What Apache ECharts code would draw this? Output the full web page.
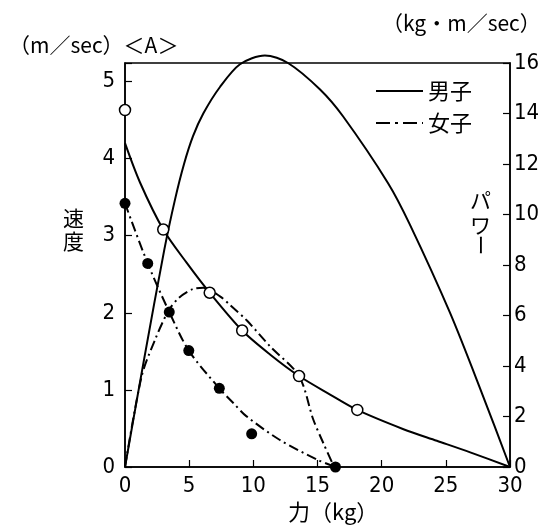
<!DOCTYPE html>
<html><head><meta charset="utf-8">
<script src="https://cdn.jsdelivr.net/npm/echarts@6/dist/echarts.min.js"></script>
<style>html,body{margin:0;padding:0;background:#fff}#c{width:543px;height:528px}</style>
</head><body><div id="c"></div>
<script>
// x: force (kg)
const xTicks = [0, 5, 10, 15, 20, 25, 30];
const leftTicks = [0, 1, 2, 3, 4, 5];
const rightTicks = [0, 2, 4, 6, 8, 10, 12, 14, 16];

// Male (男子) velocity curve [force, m/sec]
const maleVelocity = [[0,4.2],[1.17,3.69],[2.98,3.08],[4.8,2.65],[6.6,2.26],[9.13,1.77],[11.3,1.46],[13.56,1.18],[15.98,0.94],[18.1,0.74],[21.7,0.49],[24.3,0.34],[26.9,0.19],[30,0]];
// Male power curve [force, kg·m/sec]
const malePower = [[0,0],[1.5,4.3],[3.06,8.6],[3.9,10.6],[4.6,12.0],[5.3,13.1],[6.1,14.0],[7.4,15.05],[8.96,15.95],[10.9,16.3],[12.7,16.0],[15.2,14.95],[17.0,13.88],[20.5,11.24],[22.2,9.6],[25.33,6.1],[27.83,2.9],[30,0]];
// Male measured points (open circles)
const malePoints = [[0,4.63],[2.98,3.08],[6.6,2.26],[9.13,1.77],[13.56,1.18],[18.1,0.74]];

// Female (女子) velocity curve
const femaleVelocity = [[0,3.42],[1.77,2.64],[3.45,2.01],[4.97,1.51],[7.35,1.02],[8.44,0.83],[9.45,0.66],[12.07,0.35],[15.05,0.09],[16.4,0]];
// Female power curve
const femalePower = [[0,0],[1.3,3.6],[2.34,5.04],[3.37,6.17],[4.2,6.7],[5.3,7.05],[6.1,7.1],[7.4,6.76],[8.18,6.42],[9.5,5.8],[11.3,4.78],[13.56,3.6],[14.67,1.88],[15.46,0.94],[16.3,0]];
// Female measured points (filled)
const femalePoints = [[0,3.42],[1.77,2.64],[3.45,2.01],[4.97,1.51],[7.35,1.02],[9.87,0.43],[16.4,0]];

const NUM_FONT = '"Liberation Sans Narrow", "DejaVu Sans Condensed", Roboto, sans-serif';
const JP_FONT = '"Noto Sans CJK JP", sans-serif';
const DASHDOT = [10, 4, 2, 4];

const chart = echarts.init(document.getElementById('c'), null, {renderer: 'canvas'});
const axisCommon = {
  axisLine: {show: true, lineStyle: {color: '#000', width: 1.5}},
  axisTick: {show: true, inside: true, length: 7, lineStyle: {color: '#000', width: 1.2}},
  splitLine: {show: false},
  axisLabel: {color: '#000', fontSize: 22, fontFamily: NUM_FONT}
};
chart.setOption({
  animation: false,
  backgroundColor: '#fff',
  grid: {left: 125, top: 63, right: 33, bottom: 61, show: true, borderColor: '#000', borderWidth: 1.5},
  xAxis: Object.assign({}, axisCommon, {
    type: 'value', min: xTicks[0], max: xTicks[xTicks.length - 1], interval: 5,
    axisLabel: Object.assign({}, axisCommon.axisLabel, {margin: 8})
  }),
  yAxis: [
    Object.assign({}, axisCommon, {
      type: 'value', min: 0, max: 5.24, interval: 1, position: 'left',
      axisLabel: Object.assign({}, axisCommon.axisLabel, {margin: 10,
        formatter: v => leftTicks.indexOf(v) >= 0 ? String(v) : ''})
    }),
    Object.assign({}, axisCommon, {
      type: 'value', min: 0, max: rightTicks[rightTicks.length - 1], interval: 2, position: 'right',
      axisLabel: Object.assign({}, axisCommon.axisLabel, {margin: 4})
    })
  ],
  legend: {
    orient: 'vertical', left: 370, top: 75,
    itemWidth: 47, itemHeight: 14, itemGap: 10,
    itemStyle: {color: 'transparent', borderWidth: 0, opacity: 0},
    textStyle: {fontSize: 22, fontFamily: JP_FONT, color: '#000'},
    data: [
      {name: '男子', lineStyle: {color: '#000', width: 2, type: 'solid'}},
      {name: '女子', lineStyle: {color: '#000', width: 2, type: [14, 5, 3, 5]}}
    ]
  },
  series: [
    {name: '男子', type: 'line', data: maleVelocity, yAxisIndex: 0, smooth: 0.3, symbol: 'none',
      lineStyle: {color: '#000', width: 2}, itemStyle: {color: '#000'}, z: 3},
    {name: '男子', type: 'line', data: malePower, yAxisIndex: 1, smooth: 0.3, symbol: 'none', clip: false,
      lineStyle: {color: '#000', width: 2}, itemStyle: {color: '#000'}, z: 3},
    {name: '女子', type: 'line', data: femaleVelocity, yAxisIndex: 0, smooth: 0.3, symbol: 'none',
      lineStyle: {color: '#000', width: 2, type: DASHDOT}, itemStyle: {color: '#000'}, z: 3},
    {name: '女子', type: 'line', data: femalePower, yAxisIndex: 1, smooth: 0.3, symbol: 'none',
      lineStyle: {color: '#000', width: 2, type: DASHDOT}, itemStyle: {color: '#000'}, z: 3},
    {name: 'malePts', type: 'scatter', data: malePoints, yAxisIndex: 0, symbol: 'circle', symbolSize: 11, clip: false,
      itemStyle: {color: '#fff', borderColor: '#000', borderWidth: 1.5, opacity: 1}, z: 5},
    {name: 'femalePts', type: 'scatter', data: femalePoints, yAxisIndex: 0, symbol: 'circle', symbolSize: 11, clip: false,
      itemStyle: {color: '#000', opacity: 1}, z: 5}
  ],
  graphic: [
    {type: 'text', left: 9, top: 35, style: {text: '（m／sec）＜A＞', font: '21px ' + JP_FONT, fill: '#000'}},
    {type: 'text', left: 382, top: 13, style: {text: '（kg・m／sec）', font: '21px ' + JP_FONT, fill: '#000'}},
    {type: 'text', left: 63, top: 207, style: {text: '速\n度', font: '21px ' + JP_FONT, lineHeight: 23, fill: '#000'}},
    {type: 'text', left: 470, top: 188, style: {text: 'パ\nワ', font: '21px ' + JP_FONT, lineHeight: 25, fill: '#000'}},
    {type: 'text', x: 481, y: 245, rotation: -Math.PI / 2, style: {text: 'ー', font: '21px ' + JP_FONT, fill: '#000', align: 'center', verticalAlign: 'middle'}},
    {type: 'text', left: 288, top: 501, style: {text: '力（kg）', font: '22px ' + JP_FONT, fill: '#000'}}
  ]
});
</script></body></html>
